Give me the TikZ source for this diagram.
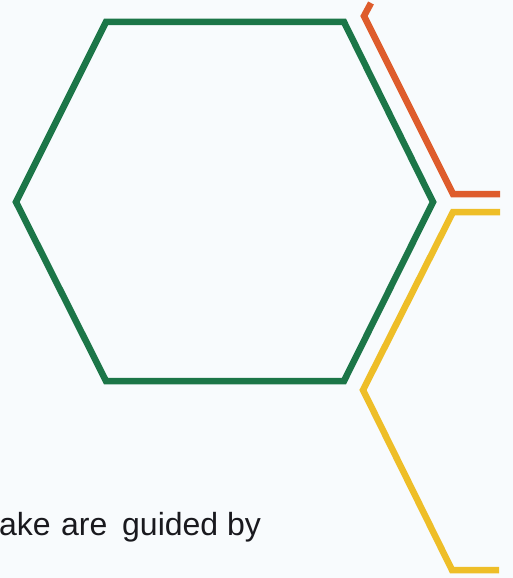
\documentclass[tikz,border=0pt]{standalone}
\usepackage{fontspec}
\setmainfont{Liberation Sans}
\definecolor{bg}{RGB}{248,251,253}
\definecolor{hexgreen}{RGB}{28,118,72}
\definecolor{hexorange}{RGB}{222,92,44}
\definecolor{hexyellow}{RGB}{238,190,40}
\definecolor{txt}{RGB}{25,25,30}
\begin{document}
\begin{tikzpicture}[x=1pt,y=-1pt,
  hexline/.style={line width=6.5pt,line join=miter},
  word/.style={anchor=base west,inner sep=0pt,font=\fontsize{32}{36}\selectfont,text=txt}]
\fill[bg] (0,0) rectangle (513,578);
\useasboundingbox (0,0) rectangle (513,578);
\coordinate (g1) at (106,22);
\coordinate (g2) at (344,22);
\coordinate (g3) at (433,202);
\coordinate (g4) at (344,381);
\coordinate (g5) at (106,381);
\coordinate (g6) at (16,202);
\draw[hexline,hexgreen] (g1) -- (g2) -- (g3) -- (g4) -- (g5) -- (g6) -- cycle;
\coordinate (o1) at (371,3);
\coordinate (o2) at (364,16);
\coordinate (o3) at (453,194);
\coordinate (o4) at (500,194);
\draw[hexline,hexorange] (o1) -- (o2) -- (o3) -- (o4);
\coordinate (y1) at (500,212);
\coordinate (y2) at (453,212);
\coordinate (y3) at (363,390);
\coordinate (y4) at (452,570);
\coordinate (y5) at (499,570);
\draw[hexline,hexyellow] (y1) -- (y2) -- (y3) -- (y4) -- (y5);
\node[word] (w1) at (-1,535) {ake};
\node[word] (w2) at (61,535) {are};
\node[word] (w3) at (122,535) {guided};
\node[word] (w4) at (227,535) {by};
\end{tikzpicture}
\end{document}
